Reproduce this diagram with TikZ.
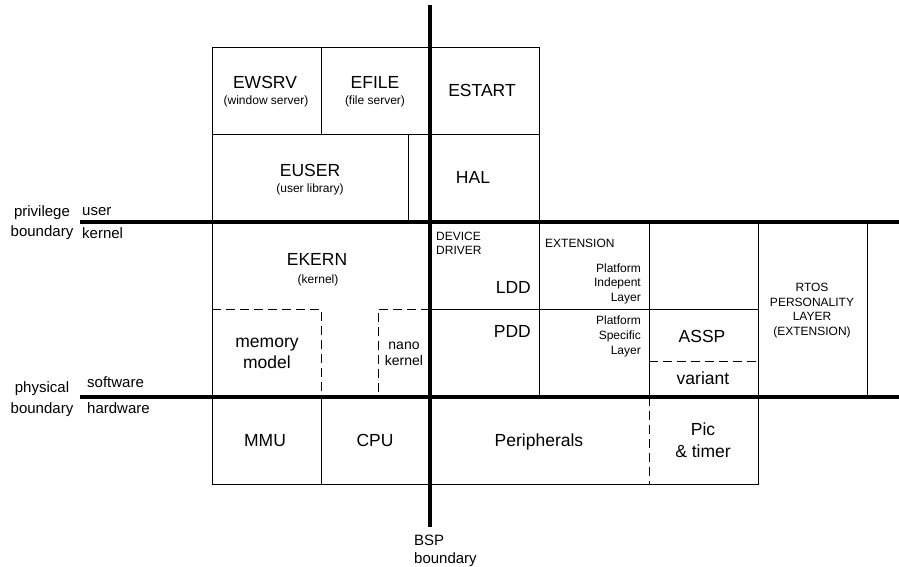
\documentclass[tikz,border=0pt]{standalone}
\usepackage{fontspec}
\setmainfont{Liberation Sans}
\begin{document}
\begin{tikzpicture}[x=1pt,y=-1pt,
  blk/.style={draw,line width=0.9pt},
  dashblk/.style={draw,line width=0.9pt,dash pattern=on 9pt off 5pt},
  bndline/.style={line width=4.3pt},
  bigtxt/.style={inner sep=0pt,font=\fontsize{17.5}{21}\selectfont},
  smalltxt/.style={inner sep=0pt,font=\fontsize{12}{14.5}\selectfont},
  sidetxt/.style={inner sep=0pt,font=\fontsize{15}{20}\selectfont}]
\useasboundingbox (0,0) rectangle (899,567);
% user side
\draw[blk] (212,47) rectangle (321,134);
\draw[blk] (321,47) rectangle (430,134);
\draw[blk] (430,47) rectangle (539,134);
\draw[blk] (212,134) rectangle (408,222);
\draw[blk] (408,134) rectangle (430,222);
\draw[blk] (430,134) rectangle (539,222);
% kernel side
\draw[blk] (212,222) rectangle (430,397);
\draw[dashblk] (212,309) -- (321,309) -- (321,397);
\draw[dashblk] (430,309) -- (378,309) -- (378,397);
\draw[blk] (430,222) rectangle (539,397);
\draw[blk] (539,222) rectangle (649,397);
\draw[blk] (649,222) rectangle (758,397);
\draw[blk] (430,309) -- (758,309);
\draw[dashblk] (649,361) -- (758,361);
\draw[blk] (758,222) rectangle (867,397);
% hardware
\draw[blk] (212,397) rectangle (321,484);
\draw[blk] (321,397) rectangle (430,484);
\draw[blk] (430,397) rectangle (758,484);
\draw[dashblk] (649,397) -- (649,484);
% boundaries
\draw[bndline] (80,222) -- (899,222);
\draw[bndline] (80,397) -- (899,397);
\draw[bndline] (430,5) -- (430,527);

\node[bigtxt,anchor=base] (ewsrv) at (265,89) {EWSRV};
\node[smalltxt,anchor=base] (ewsrvsub) at (266,105) {(window server)};
\node[bigtxt,anchor=base] (efile) at (375,89) {EFILE};
\node[smalltxt,anchor=base] (efilesub) at (375,105) {(file server)};
\node[bigtxt,anchor=base] (estart) at (482,97) {ESTART};
\node[bigtxt,anchor=base] (euser) at (310,176) {EUSER};
\node[smalltxt,anchor=base] (eusersub) at (310,192) {(user library)};
\node[bigtxt,anchor=base] (hal) at (473,183) {HAL};

\node[bigtxt,anchor=base] (ekern) at (317,265) {EKERN};
\node[smalltxt,anchor=base] (ekernsub) at (318,283) {(kernel)};
\node[bigtxt,anchor=base,align=center] (memmodel) at (267,368) {memory\\model};
\node[inner sep=0pt,font=\fontsize{14}{16}\selectfont,anchor=base,align=center] (nanokern) at (404,365) {nano\\kernel};
\node[smalltxt,font=\fontsize{12}{14}\selectfont,anchor=base west,align=left] (devdrv) at (436,254) {DEVICE\\DRIVER};
\node[smalltxt,anchor=base west] (ext) at (545,247) {EXTENSION};
\node[bigtxt,anchor=base east] (ldd) at (531,293) {LDD};
\node[smalltxt,anchor=base east,align=right] (pil) at (641,301) {Platform\\Indepent\\Layer};
\node[bigtxt,anchor=base east] (pdd) at (531,337) {PDD};
\node[smalltxt,font=\fontsize{12}{15}\selectfont,anchor=base east,align=right] (psl) at (641,354) {Platform\\Specific\\Layer};
\node[bigtxt,anchor=base] (assp) at (702,342) {ASSP};
\node[bigtxt,anchor=base] (variant) at (703,384) {variant};
\node[smalltxt,anchor=base,align=center] (rtos) at (812,335) {RTOS\\PERSONALITY\\LAYER\\(EXTENSION)};

\node[bigtxt,anchor=base] (mmu) at (265,446) {MMU};
\node[bigtxt,anchor=base] (cpu) at (375,446) {CPU};
\node[bigtxt,anchor=base] (periph) at (539,446) {Peripherals};
\node[bigtxt,font=\fontsize{17.5}{22}\selectfont,anchor=base,align=center] (pic) at (703,457) {Pic\\\& timer};

\node[sidetxt,anchor=base,align=center] (privlbl) at (42,236) {privilege\\boundary};
\node[sidetxt,anchor=base west] (user) at (82,215) {user};
\node[sidetxt,anchor=base west] (kernel) at (82,238) {kernel};
\node[sidetxt,font=\fontsize{15}{21}\selectfont,anchor=base,align=center] (physlbl) at (42,413) {physical\\boundary};
\node[sidetxt,anchor=base west] (software) at (87,387) {software};
\node[sidetxt,anchor=base west] (hardware) at (87,413) {hardware};
\node[sidetxt,font=\fontsize{15}{18}\selectfont,anchor=base west,align=left] (bsp) at (414,563) {BSP\\boundary};
\end{tikzpicture}
\end{document}
